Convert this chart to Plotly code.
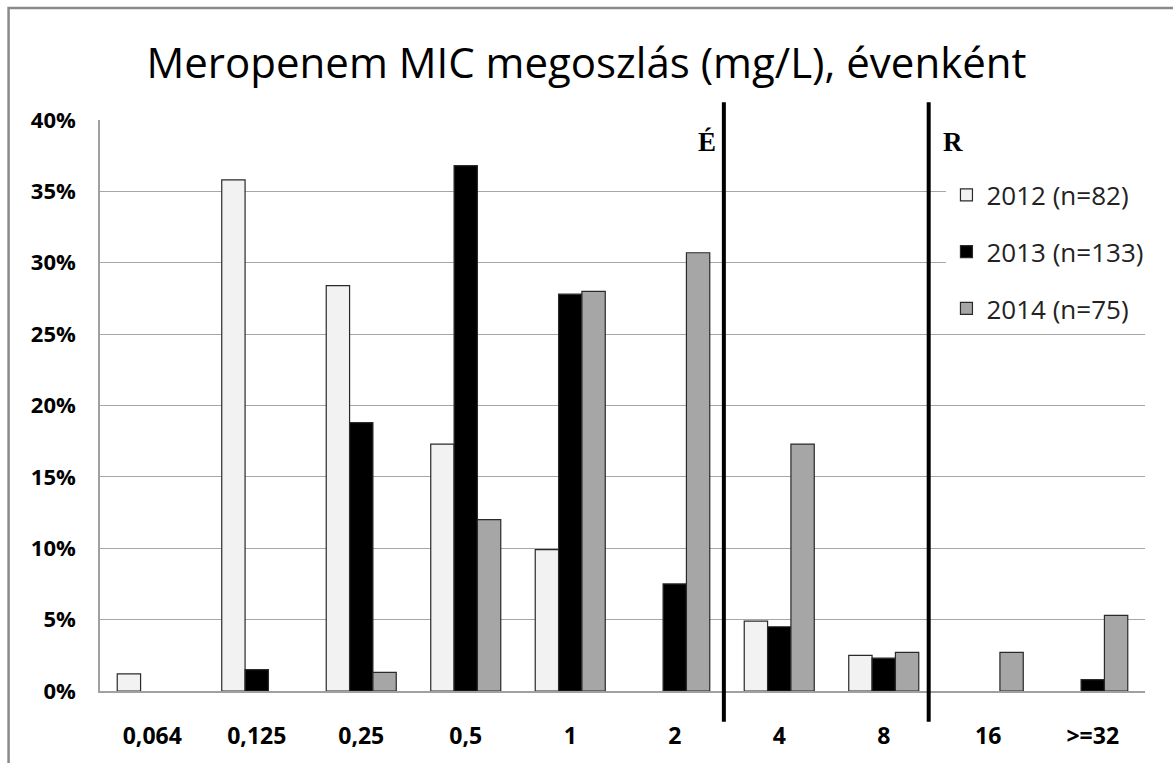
import plotly.graph_objects as go

# MIC categories (mg/L)
mic_labels = ["0,064", "0,125", "0,25", "0,5", "1", "2", "4", "8", "16", ">=32"]

# Share of isolates per MIC value, in percent
pct_2012 = [1.2, 35.8, 28.4, 17.3, 9.9, 0, 4.9, 2.5, 0, 0]
pct_2013 = [0, 1.5, 18.8, 36.8, 27.8, 7.5, 4.5, 2.3, 0, 0.8]
pct_2014 = [0, 0, 1.3, 12.0, 28.0, 30.7, 17.3, 2.7, 2.7, 5.3]

series_names = ["2012 (n=82)", "2013 (n=133)", "2014 (n=75)"]
series_values = [pct_2012, pct_2013, pct_2014]
series_colors = ["#f2f2f2", "#000000", "#a6a6a6"]

# Breakpoints drawn between categories: (position on category axis, label)
breakpoints = [(5.47, "É"), (7.43, "R")]

LABEL_FONT = "Open Sans, Lato, sans-serif"

fig = go.Figure()
for i, (name, vals, col) in enumerate(zip(series_names, series_values, series_colors)):
    # empty classes (0 %) are left without a bar
    fig.add_trace(go.Bar(
        x=mic_labels, y=[v if v > 0 else None for v in vals],
        name=name, legendgroup=str(i),
        marker=dict(color=col, line=dict(color="#2a2a2a", width=1.2)),
    ))

shapes = []
annotations = []
for xpos, lab in breakpoints:
    shapes.append(dict(type="line", xref="x", yref="paper",
                       x0=xpos, x1=xpos, y0=-0.054, y1=1.031,
                       line=dict(color="#000000", width=4)))
for (xpos, lab), side in zip(breakpoints, ["right", "left"]):
    annotations.append(dict(
        x=xpos, xref="x", y=0.992, yref="paper", yanchor="top",
        text="<b>%s</b>" % lab,
        showarrow=False, xanchor=side, xshift=-6 if side == "right" else 12,
        font=dict(family="Liberation Serif, Times New Roman, serif", size=27, color="#000000"),
    ))

# outer chart frame
shapes.append(dict(type="rect", xref="paper", yref="paper",
                   x0=-0.0875, x1=1.2, y0=1.196, y1=-0.3,
                   line=dict(color="#8a8a8a", width=2.5), layer="below"))

fig.update_layout(
    width=1173, height=763,
    margin=dict(l=100, r=28, t=120, b=72),
    paper_bgcolor="#ffffff", plot_bgcolor="#ffffff",
    barmode="group", bargap=0.33, bargroupgap=0,
    title=dict(text="Meropenem MIC megoszlás (mg/L), évenként",
               x=0.5, xanchor="center", y=0.917, yanchor="middle",
               font=dict(family=LABEL_FONT, size=42, color="#000000")),
    font=dict(family=LABEL_FONT, color="#000000"),
    showlegend=True,
    legend=dict(x=0.81, xanchor="left", y=0.91, yanchor="top",
                bgcolor="#ffffff", traceorder="grouped", tracegroupgap=20,
                font=dict(family=LABEL_FONT, size=26, color="#222222"),
                itemwidth=30),
    shapes=shapes,
    annotations=annotations,
)
fig.update_xaxes(showgrid=False, showline=True, linecolor="#a0a0a0", linewidth=1.5,
                 ticks="", tickfont=dict(family=LABEL_FONT, size=23, color="#000000"),
                 ticklabelstandoff=24, tickprefix="<b>", ticksuffix="</b>")
fig.update_yaxes(range=[0, 40], dtick=5, ticksuffix="%</b>", tickprefix="<b>",
                 showgrid=True, gridcolor="#a6a6a6", gridwidth=1.2,
                 showline=True, linecolor="#a0a0a0", linewidth=1.5, zeroline=False,
                 ticks="", tickfont=dict(family=LABEL_FONT, size=22, color="#000000"),
                 ticklabelstandoff=18)

fig.write_html("out.html")
